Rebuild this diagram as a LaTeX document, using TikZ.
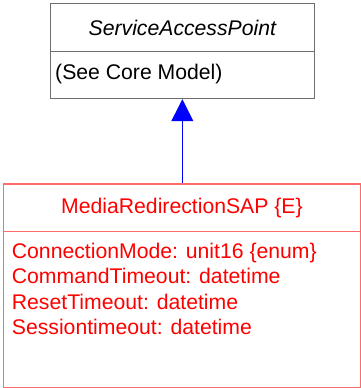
\documentclass[tikz,border=0pt]{standalone}
\usepackage{fontspec}
\setmainfont{Liberation Sans}
\usepackage{tikz}
\usetikzlibrary{arrows.meta,positioning}
\definecolor{umlgray}{HTML}{6E6E6E}
\definecolor{umlred}{HTML}{FF0000}
\definecolor{umlpink}{HTML}{FF6B6B}
\definecolor{umlblue}{HTML}{0000FF}

\begin{document}
\begin{tikzpicture}[
  x=1pt, y=-1pt,
  every node/.style={font=\fontsize{21.2}{25.4}\selectfont, inner sep=0pt},
  basebox/.style={draw=umlgray, line width=1.2pt, fill=white, minimum width=264.5pt, anchor=north west},
  extbox/.style={draw=umlpink, line width=1.2pt, fill=white, minimum width=357.3pt, anchor=north west},
  attr/.style={align=left, anchor=north west},
  line/.style={-{Triangle[length=22pt, width=22pt]}, line width=1pt, umlblue}
]
\useasboundingbox (0,0) rectangle (361,388);

% base class
\node[basebox, minimum height=48pt] (sapname) at (49.5,3) {\itshape ServiceAccessPoint};
\node[basebox, minimum height=47pt] (sapbody) at (49.5,51) {};
\node[anchor=west] (saptext) at (55,74.5) {(See Core Model)};

% extension class
\node[extbox, minimum height=47.4pt, text=umlred] (mrsname) at (2.7,183.3) {MediaRedirectionSAP \{E\}};
\node[extbox, minimum height=156pt] (mrsbody) at (2.7,230.7) {};
\node[attr, text=umlred] (mrsattr) at (11.7,243) {ConnectionMode: unit16 \{enum\}\\CommandTimeout: datetime\\ResetTimeout: datetime\\Sessiontimeout: datetime};

\draw[line] (sapbody.south |- mrsname.north) -- (sapbody.south);
\end{tikzpicture}
\end{document}
